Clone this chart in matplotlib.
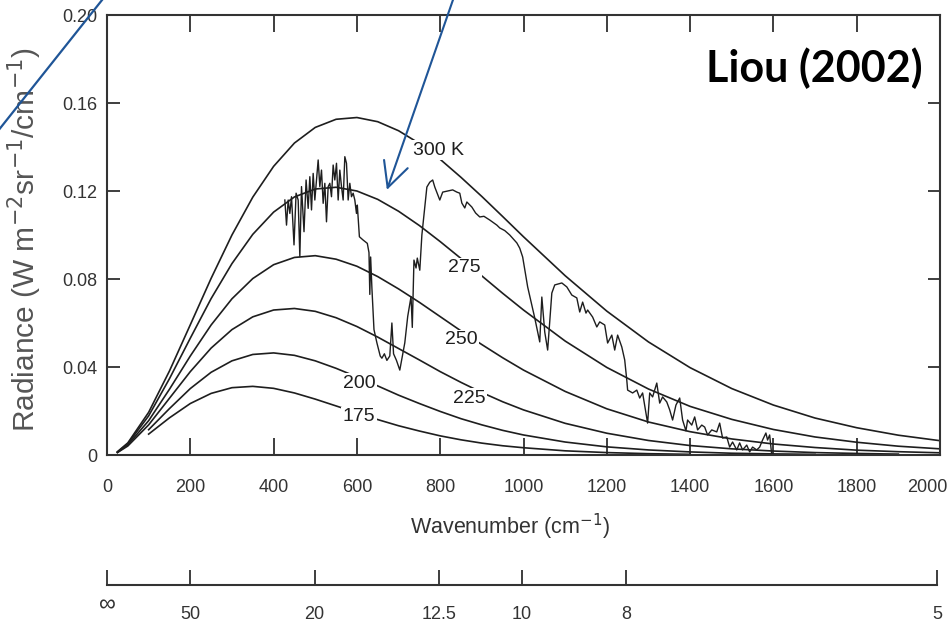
import numpy as np
import matplotlib.pyplot as plt
import matplotlib.transforms as mtransforms
from matplotlib.lines import Line2D

plt.rcParams['font.family'] = ['Liberation Sans', 'DejaVu Sans']

# Blackbody curves (W m-2 sr-1 / cm-1)
wn = [25, 50, 100, 150, 200, 250, 300, 350, 400, 450, 500, 550, 600, 650, 700,
      750, 800, 850, 900, 950, 1000, 1100, 1200, 1300, 1400, 1500, 1600, 1700,
      1800, 1900, 2000]
nan = np.nan
r300 = [0.0015, 0.0055, 0.0194, 0.0382, 0.0592, 0.0803, 0.1000, 0.1172, 0.1312, 0.1418,
        0.1489, 0.1526, 0.1534, 0.1515, 0.1474, 0.1416, 0.1344, 0.1262, 0.1175, 0.1084,
        0.0992, 0.0815, 0.0654, 0.0514, 0.0397, 0.0302, 0.0227, 0.0168, 0.0124, 0.0090, 0.0065]
r275 = [0.0013, 0.0051, 0.0178, 0.0347, 0.0531, 0.0711, 0.0870, 0.1003, 0.1104, 0.1173,
        0.1209, 0.1217, 0.1200, 0.1162, 0.1108, 0.1043, 0.0970, 0.0893, 0.0814, 0.0735,
        0.0659, 0.0518, 0.0398, 0.0300, 0.0221, 0.0162, 0.0116, 0.0082, 0.0058, 0.0040, 0.0028]
r250 = [0.0012, 0.0046, 0.0156, 0.0299, 0.0450, 0.0591, 0.0710, 0.0802, 0.0865, 0.0898,
        0.0906, 0.0890, 0.0858, 0.0811, 0.0755, 0.0694, 0.0629, 0.0564, 0.0502, 0.0442,
        0.0386, 0.0289, 0.0210, 0.0150, 0.0106, 0.0073, 0.0050, 0.0034, 0.0022, 0.0015, 0.0010]
r225 = [0.0011, 0.0041, 0.0137, 0.0258, 0.0379, 0.0486, 0.0570, 0.0628, 0.0659, 0.0666,
        0.0653, 0.0624, 0.0584, 0.0536, 0.0484, 0.0432, 0.0379, 0.0330, 0.0284, 0.0242,
        0.0205, 0.0144, 0.0099, 0.0066, 0.0043, 0.0028, 0.0018, 0.0011, 0.0007, 0.0004, nan]
r200 = [nan, nan, 0.0115, 0.0211, 0.0302, 0.0376, 0.0428, 0.0457, 0.0464, 0.0453,
        0.0428, 0.0394, 0.0355, 0.0314, 0.0272, 0.0234, 0.0198, 0.0165, 0.0137, 0.0112,
        0.0091, 0.0059, 0.0037, 0.0023, 0.0014, 0.0008, 0.0005, 0.0003, nan, nan, nan]
r175 = [nan, nan, 0.0095, 0.0169, 0.0234, 0.0280, 0.0306, 0.0312, 0.0303, 0.0282,
        0.0254, 0.0223, 0.0192, 0.0161, 0.0133, 0.0109, 0.0087, 0.0069, 0.0054, 0.0042,
        0.0033, 0.0019, 0.0011, 0.0006, 0.0003, nan, nan, nan, nan, nan, nan]
curves = [r300, r275, r250, r225, r200, r175]
curve_labels = ['300 K', '275', '250', '225', '200', '175']
label_x = [734, 818, 811, 830, 566, 566]
label_y = [0.1386, 0.085, 0.0523, 0.0259, 0.0327, 0.0173]

# Observed spectrum
spec_wn = [427, 431, 435, 439, 443, 449, 454, 459, 463, 467, 473, 478, 483, 487, 491, 495,
           499, 503, 507, 511, 515, 519, 523, 527, 531, 535, 539, 543, 547, 551, 555, 559,
           563, 567, 571, 575, 579, 583, 587, 591, 595, 599, 601, 606, 615, 625, 629, 631,
           633, 636, 641, 648, 656, 660, 666, 672, 679, 684, 688, 695, 703, 715, 722, 730,
           733, 737, 742, 745, 751, 756, 768, 775, 782, 787, 799, 806, 818, 830, 840, 847,
           852, 859, 864, 876, 885, 895, 905, 919, 936, 943, 955, 967, 984, 991, 998, 1010,
           1027, 1039, 1044, 1051, 1058, 1068, 1075, 1092, 1104, 1116, 1128, 1135, 1142, 1150,
           1154, 1166, 1176, 1183, 1195, 1202, 1212, 1219, 1226, 1236, 1243, 1248, 1250, 1262,
           1272, 1279, 1286, 1298, 1303, 1310, 1320, 1327, 1334, 1344, 1351, 1358, 1366, 1375,
           1382, 1390, 1394, 1404, 1411, 1418, 1428, 1435, 1442, 1452, 1464, 1471, 1478, 1488,
           1495, 1502, 1512, 1519, 1526, 1536, 1543, 1550, 1560, 1567, 1574, 1582, 1586, 1591,
           1596]
spec_rad = [0.1159, 0.1045, 0.1159, 0.1098, 0.1174, 0.0955, 0.1190, 0.1159, 0.0902, 0.1220,
            0.1015, 0.1250, 0.1121, 0.1265, 0.1114, 0.1280, 0.1159, 0.1250, 0.1341, 0.1220,
            0.1295, 0.1144, 0.1235, 0.1060, 0.1220, 0.1235, 0.1174, 0.1318, 0.1250, 0.1326,
            0.1159, 0.1295, 0.1220, 0.1159, 0.1356, 0.1326, 0.1159, 0.1235, 0.1174, 0.1190,
            0.1159, 0.1098, 0.1136, 0.0992, 0.0977, 0.0962, 0.0920, 0.0730, 0.0900, 0.0760,
            0.0570, 0.0510, 0.0450, 0.0440, 0.0460, 0.0430, 0.0450, 0.0600, 0.0460, 0.0430,
            0.0386, 0.0510, 0.0630, 0.0720, 0.0580, 0.0886, 0.0850, 0.0895, 0.0840, 0.1000,
            0.1218, 0.1240, 0.1250, 0.1218, 0.1159, 0.1195, 0.1200, 0.1205, 0.1195, 0.1190,
            0.1145, 0.1123, 0.1150, 0.1127, 0.1100, 0.1082, 0.1085, 0.1068, 0.1045, 0.1032,
            0.1020, 0.1000, 0.0964, 0.0940, 0.0900, 0.0764, 0.0623, 0.0514, 0.0718, 0.0559,
            0.0477, 0.0736, 0.0773, 0.0782, 0.0764, 0.0727, 0.0714, 0.0650, 0.0695, 0.0645,
            0.0659, 0.0627, 0.0582, 0.0605, 0.0591, 0.0509, 0.0545, 0.0477, 0.0545, 0.0491,
            0.0432, 0.0340, 0.0295, 0.0282, 0.0295, 0.0259, 0.0282, 0.0145, 0.0282, 0.0264,
            0.0327, 0.0236, 0.0264, 0.0241, 0.0205, 0.0159, 0.0227, 0.0259, 0.0159, 0.0110,
            0.0159, 0.0136, 0.0173, 0.0114, 0.0136, 0.0127, 0.0091, 0.0114, 0.0105, 0.0145,
            0.0077, 0.0082, 0.0036, 0.0059, 0.0023, 0.0055, 0.0023, 0.0045, 0.0014, 0.0036,
            0.0023, 0.0036, 0.0068, 0.0100, 0.0068, 0.0091, 0.0000]

# Wavelength scale (micrometres)
wavelengths = [np.inf, 50, 20, 12.5, 10, 8, 5]
wl_labels = ['\u221e', '50', '20', '12.5', '10', '8', '5']

ink = '#1e1e1e'
blue = '#1f5597'

fig = plt.figure(figsize=(9.52, 6.28), dpi=100)
ax = fig.add_axes([107 / 952, 1 - 455 / 628, 833 / 952, 440 / 628])

for r in curves:
    ax.plot(wn, r, color=ink, lw=1.2)
ax.plot(spec_wn, spec_rad, color=ink, lw=1.0)

for lab, lx, ly in zip(curve_labels, label_x, label_y):
    ax.text(lx, ly, lab, fontsize=14, color=ink, ha='left', va='center', zorder=5,
            bbox=dict(facecolor='white', edgecolor='none', pad=1.0))

ax.set_xlim(0, 2000)
ax.set_ylim(0, 0.2)
ax.set_xticks(range(0, 2001, 200))
ax.set_yticks([0, 0.04, 0.08, 0.12, 0.16, 0.20])
ax.set_yticklabels(['0', '0.04', '0.08', '0.12', '0.16', '0.20'])
ax.tick_params(direction='in', top=True, right=True, colors=ink, labelcolor='#333333')
ax.tick_params(axis='x', length=12, width=1.2, pad=17, labelsize=13)
ax.tick_params(axis='y', length=9, width=1.2, pad=7, labelsize=13)
for s in ax.spines.values():
    s.set_linewidth(1.5)
    s.set_color('#333333')

# nudge the last tick label so it stays on the page
last = ax.get_xticklabels()[-1]
last.set_transform(last.get_transform() +
                   mtransforms.ScaledTranslation(-9 / 72, 0, fig.dpi_scale_trans))

ax.set_xlabel('Wavenumber (cm$^{-1}$)', fontsize=15.5, color='#333333')
ax.xaxis.set_label_coords(0.484, -0.13)
ax.set_ylabel('Radiance (W m$^{-2}$sr$^{-1}$/cm$^{-1}$)', fontsize=21.5, color='#555555')
ax.yaxis.set_label_coords(-0.076, 0.49)

# wavelength axis below
axw = fig.add_axes([107 / 952, 1 - 585 / 628, 830 / 952, 0.001])
axw.set_xlim(0, 1996)
axw.set_yticks([])
axw.set_xticks([1e4 / w for w in wavelengths])
axw.set_xticklabels(wl_labels)
axw.tick_params(axis='x', direction='in', length=11, width=1.2, pad=15, labelsize=13,
                colors=ink, labelcolor='#333333')
inf_lbl = axw.get_xticklabels()[0]
inf_lbl.set_fontsize(17)
inf_lbl.set_transform(inf_lbl.get_transform() +
                      mtransforms.ScaledTranslation(0, 8 / 72, fig.dpi_scale_trans))
for side in ['top', 'left', 'right']:
    axw.spines[side].set_visible(False)
axw.spines['bottom'].set_linewidth(1.5)
axw.spines['bottom'].set_color('#333333')
axw.patch.set_visible(False)

fig.text(923 / 952, 1 - 82 / 628, 'Liou (2002)', ha='right', va='baseline',
         fontsize=31, fontweight='bold', family=['Lato', 'Open Sans', 'DejaVu Sans'])

# blue annotation arrows
ax.annotate('', xy=(672, 0.1205), xytext=(839, 0.2114), annotation_clip=False,
            arrowprops=dict(arrowstyle='->,head_length=0.9,head_width=0.45', color=blue,
                            lw=1.5, mutation_scale=20, shrinkA=0, shrinkB=0))
fig.add_artist(Line2D([110 / 952, -10 / 952], [1 + 10 / 628, 1 - 141 / 628],
                      transform=fig.transFigure, color=blue, lw=1.6))

fig.savefig('out.png', dpi=100)
